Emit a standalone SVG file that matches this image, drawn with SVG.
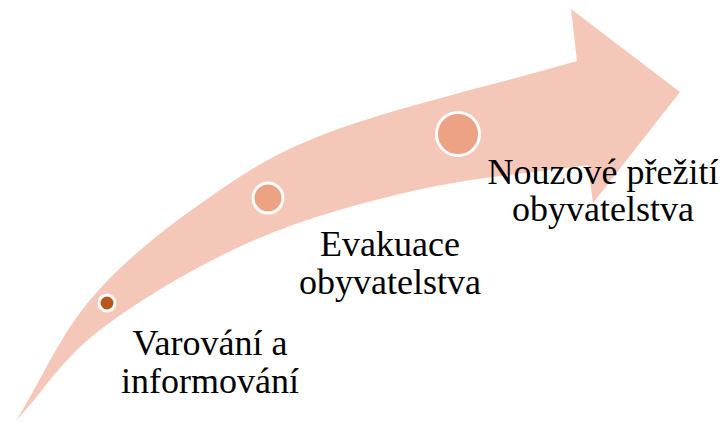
<svg xmlns="http://www.w3.org/2000/svg" width="725" height="423" viewBox="0 0 725 423">
<style>
.arrow{fill:#F5C7B8;stroke:none}
.dot{stroke:#FFFFFF;stroke-width:3}
.mid{fill:#EDA283}
.dark{fill:#B5581F}
.lbl{font-family:'Liberation Serif','Times New Roman',Times,serif;font-size:36px;fill:#000000;text-anchor:middle}
</style>
<rect width="725" height="423" fill="#FFFFFF"/>
<g id="arrow">
<path class="arrow" d="M16,421 C41,381 59.3,336.2 90,300 C120.7,263.8 160,232 200,204 C240,176 267.2,155.8 330,132 C392.8,108.2 494.7,84.7 577,61 L571,9 L680,92 L593,203 L588,165 C531,173.3 473.3,177.2 417,190 C360.7,202.8 302.8,218.7 250,242 C197.2,265.3 139,300.2 100,330 C61,359.8 44,390.7 16,421 Z"/>
</g>
<g id="node1">
<circle class="dot dark" cx="107" cy="303" r="8"/>
<text class="lbl" x="210" y="355">Varování a</text>
<text class="lbl" x="210" y="393">informování</text>
</g>
<g id="node2">
<circle class="dot mid" cx="268" cy="198" r="15"/>
<text class="lbl" x="390" y="256">Evakuace</text>
<text class="lbl" x="390" y="294">obyvatelstva</text>
</g>
<g id="node3">
<circle class="dot mid" cx="458" cy="134" r="21.5"/>
<text class="lbl" x="603" y="184">Nouzové přežití</text>
<text class="lbl" x="603" y="221">obyvatelstva</text>
</g>
</svg>
